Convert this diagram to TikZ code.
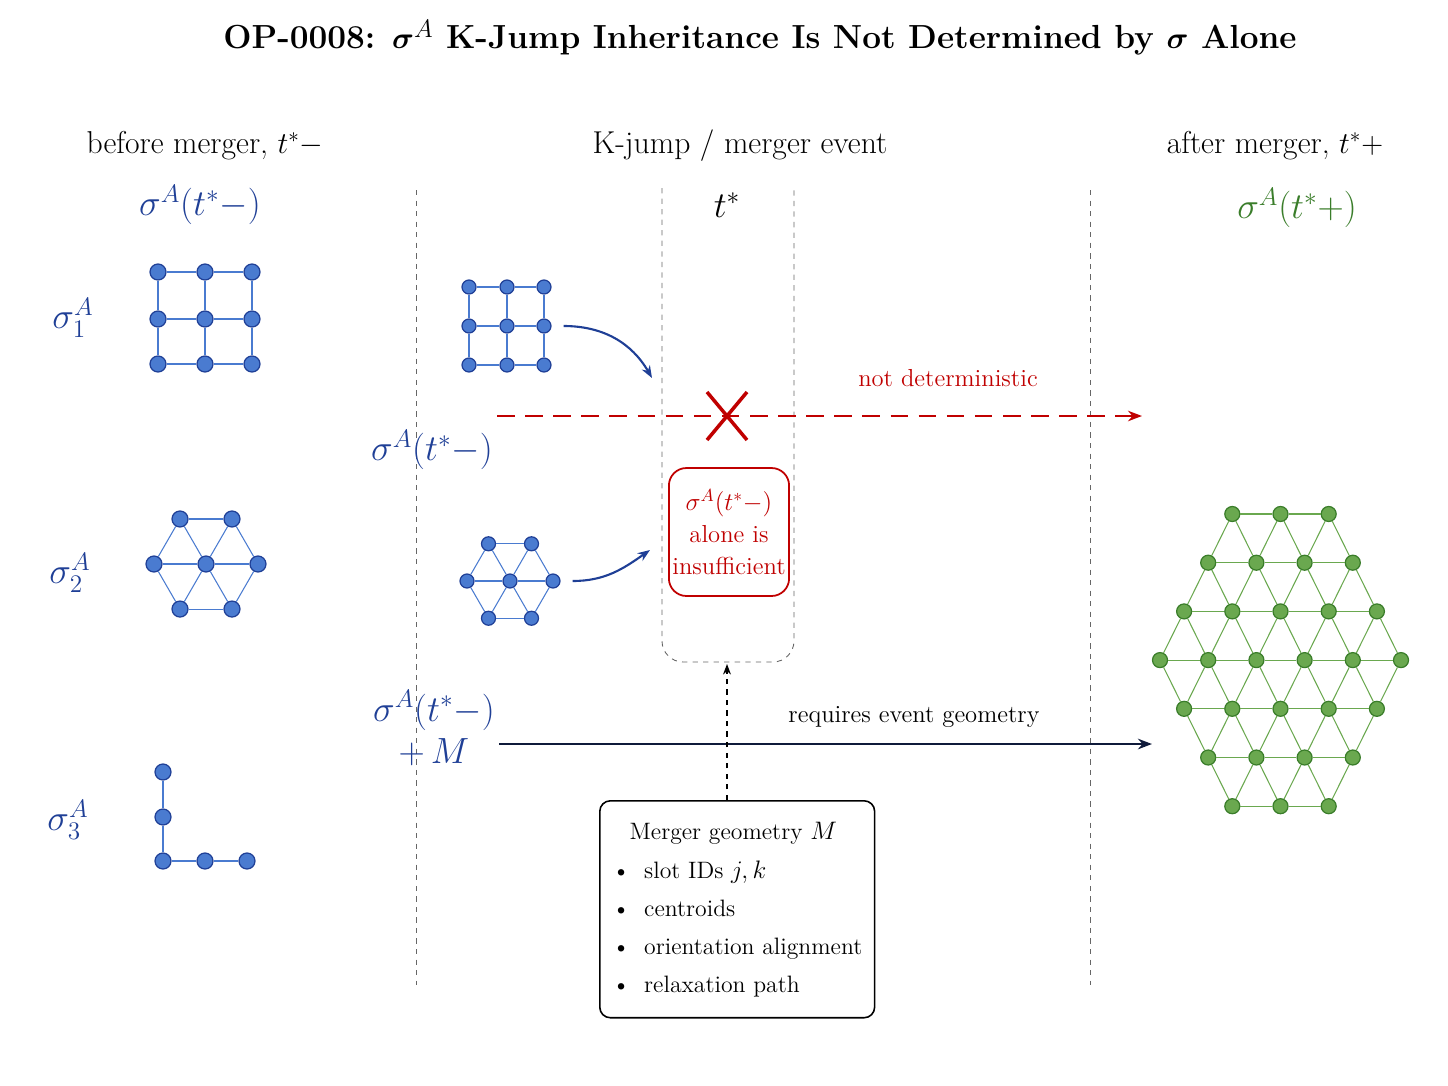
\documentclass[tikz,border=0pt]{standalone}
\usepackage{amsmath}
\usepackage{tikz}
\usetikzlibrary{arrows.meta,calc}
\definecolor{sblue}{HTML}{4A7BD0}
\definecolor{dblue}{HTML}{1F3F96}
\definecolor{sgreen}{HTML}{6AA84F}
\definecolor{dgreen}{HTML}{3A7D2A}
\definecolor{sred}{HTML}{C00000}
\definecolor{navy}{HTML}{0F1A3A}
\begin{document}
\begin{tikzpicture}[
    x=0.02cm, y=-0.02cm,
    bdot/.style={circle, draw=dblue, fill=sblue, line width=0.7pt, inner sep=0pt, minimum size=0.32cm},
    bsmall/.style={bdot, minimum size=0.28cm},
    gdot/.style={circle, draw=dgreen, fill=sgreen, line width=0.7pt, inner sep=0pt, minimum size=0.3cm},
    bedge/.style={draw=sblue, line width=0.6pt},
    gedge/.style={draw=sgreen, line width=0.6pt},
    head/.style={font=\fontsize{18}{21}\selectfont},
    mlab/.style={font=\fontsize{20}{24}\selectfont},
    vsep/.style={draw=gray!80!black, dashed, line width=0.5pt}
]
\useasboundingbox (0,0) rectangle (1448,1086);

% title and column heads
\node[font=\fontsize{19}{23}\selectfont\bfseries] (title) at (760,38)
    {OP-0008: $\boldsymbol{\sigma}^A$ K-Jump Inheritance Is Not Determined by $\boldsymbol{\sigma}$ Alone};
\node[head] (hbefore) at (205,146) {before merger, $t^*-$};
\node[head] (hevent) at (740,146) {K-jump / merger event};
\node[head] (hafter) at (1275,146) {after merger, $t^*+$};

% separators and event window
\draw[vsep] (416,190) -- (416,985);
\draw[vsep] (1090,190) -- (1090,985);
\draw[vsep, rounded corners=12] (662,188) -- (662,662) -- (794,662) -- (794,188);
\node[mlab] (tstar) at (727,205) {$t^*$};

\node[mlab, text=dblue] (sbefore) at (200,205) {$\sigma^A(t^*-)$};
\node[mlab, text=dgreen] (safter) at (1297,208) {$\sigma^A(t^*+)$};

% left column: sigma_1
\node[mlab, text=dblue] (lab1) at (73,318) {$\sigma_1^A$};
\foreach \i/\x in {0/158,1/205,2/252}
  \foreach \j/\y in {0/272,1/319,2/364}
    \node[bdot] (a\i\j) at (\x,\y) {};
\foreach \i in {0,1,2}
  \foreach \j/\k in {0/1,1/2} {
    \draw[bedge] (a\i\j) -- (a\i\k);
    \draw[bedge] (a\j\i) -- (a\k\i);
  }

% sigma_2
\node[mlab, text=dblue] (lab2) at (70,573) {$\sigma_2^A$};
\node[bdot] (hc) at (206,564) {};
\foreach \a [count=\n] in {0,60,...,300}
  \node[bdot] (h\n) at ($(206,564)+(\a:1.04cm)$) {};
\foreach \n [remember=\n as \p (initially 6)] in {1,...,6} {
  \draw[bedge] (h\p) -- (h\n);
  \draw[bedge] (hc) -- (h\n);
}

% sigma_3
\node[mlab, text=dblue] (lab3) at (68,820) {$\sigma_3^A$};
\node[bdot] (l1) at (163,772) {};
\node[bdot] (l2) at (163,817) {};
\node[bdot] (l3) at (163,861) {};
\node[bdot] (l4) at (205,861) {};
\node[bdot] (l5) at (247,861) {};
\draw[bedge] (l1) -- (l2) -- (l3) -- (l4) -- (l5);

% middle: small copies
\foreach \i/\x in {0/469,1/507,2/544}
  \foreach \j/\y in {0/287,1/326,2/365}
    \node[bsmall] (m\i\j) at (\x,\y) {};
\foreach \i in {0,1,2}
  \foreach \j/\k in {0/1,1/2} {
    \draw[bedge] (m\i\j) -- (m\i\k);
    \draw[bedge] (m\j\i) -- (m\k\i);
  }
\node[bsmall] (kc) at (510,581) {};
\foreach \a [count=\n] in {0,60,...,300}
  \node[bsmall] (k\n) at ($(510,581)+(\a:0.86cm)$) {};
\foreach \n [remember=\n as \p (initially 6)] in {1,...,6} {
  \draw[bedge] (k\p) -- (k\n);
  \draw[bedge] (kc) -- (k\n);
}
\draw[-{Stealth[length=7pt]}, draw=dblue, line width=1.2pt] (m21.east) ++(12,0) coordinate (c1)
    to[out=0, in=120] (652,378) coordinate (c2);
\draw[-{Stealth[length=7pt]}, draw=dblue, line width=1.2pt] (k1.east) ++(12,0) coordinate (c3)
    to[out=0, in=215] (650,550) coordinate (c4);

% not deterministic path
\coordinate (nd0) at (497,416);
\coordinate (nd1) at (1142,416);
\draw[sred, dashed, dash pattern=on 10pt off 6pt, line width=1.1pt, -{Stealth[length=8pt]}] (nd0) -- (nd1);
\node[font=\fontsize{14}{17}\selectfont, text=sred] (ndlab) at (948,378) {not deterministic};
\draw[sred, line width=2pt] (707,392) -- (747,440) (747,392) -- (707,440);
\node[mlab, text=dblue] (smid) at (432,450) {$\sigma^A(t^*-)$};
\node[draw=sred, line width=1pt, rounded corners=10, text=sred, align=center, fill=white, inner sep=2pt,
      minimum width=2.32cm, minimum height=2.56cm, font=\fontsize{14}{18}\selectfont] (insuf) at (729,532)
    {$\sigma^A(t^*-)$\\alone is\\insufficient};

% requires event geometry path
\node[mlab, text=dblue, align=center] (sM) at (434,728) {$\sigma^A(t^*-)$\\$+\,M$};
\coordinate (rq0) at (499,744);
\coordinate (rq1) at (1152,744);
\draw[navy, line width=1.3pt, -{Stealth[length=8pt]}] (rq0) -- (rq1);
\node[font=\fontsize{14}{17}\selectfont] (rqlab) at (914,717) {requires event geometry};

% merger geometry box
\node[draw, line width=0.9pt, rounded corners=6, align=left, anchor=north west, fill=white,
      inner sep=7pt, minimum width=5.3cm, minimum height=4.34cm, font=\fontsize{13.5}{21.5}\selectfont] (geo) at (599,800)
    {\hspace*{10pt}Merger geometry $M$\\[1pt]
     \textbullet\hspace{8pt}slot IDs $j,k$\\
     \textbullet\hspace{8pt}centroids\\
     \textbullet\hspace{8pt}orientation alignment\\
     \textbullet\hspace{8pt}relaxation path};
\coordinate (evbot) at (727,664);
\draw[dashed, line width=0.8pt, -{Stealth[length=6pt]}] (geo.north -| evbot) -- (evbot);

% after merger: green lattice
\foreach \r in {0,...,6} {
  \pgfmathtruncatemacro\nn{6-abs(\r-3)}
  \pgfmathtruncatemacro\last{\nn-1}
  \foreach \i in {0,...,\last}
    \node[gdot] (g\r-\i) at ({1280.5+(\i-(\nn-1)/2)*48.2}, {514+\r*48.7}) {};
}
\foreach \r in {0,...,6} {
  \pgfmathtruncatemacro\nn{6-abs(\r-3)}
  \pgfmathtruncatemacro\last{\nn-1}
  \pgfmathtruncatemacro\nxt{\r+1}
  \foreach \i in {0,...,\last} {
    \pgfmathtruncatemacro\ii{\i+1}
    \pgfmathtruncatemacro\im{\i-1}
    \ifnum\i<\last \draw[gedge] (g\r-\i) -- (g\r-\ii); \fi
    \ifnum\r<3
      \draw[gedge] (g\r-\i) -- (g\nxt-\i);
      \draw[gedge] (g\r-\i) -- (g\nxt-\ii);
    \else\ifnum\r<6
      \ifnum\i>0 \draw[gedge] (g\r-\i) -- (g\nxt-\im); \fi
      \ifnum\i<\last \draw[gedge] (g\r-\i) -- (g\nxt-\i); \fi
    \fi\fi
  }
}
\end{tikzpicture}
\end{document}
